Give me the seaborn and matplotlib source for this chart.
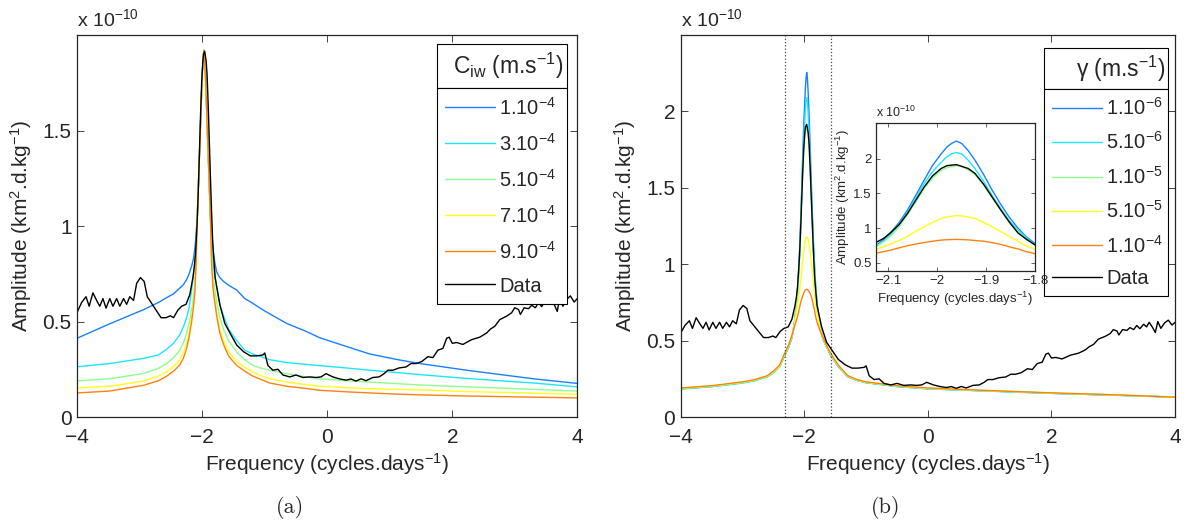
import numpy as np
import pandas as pd
import matplotlib
matplotlib.use("Agg")
import matplotlib.pyplot as plt
from matplotlib.patches import Rectangle
from matplotlib.lines import Line2D
import seaborn as sns

# amplitudes are in units of 1e-10 km^2.d.kg^-1, frequencies in cycles/day

# observed spectrum (same curve in both panels)
data_freq = [-4.0, -3.93, -3.86, -3.81, -3.75, -3.69, -3.64, -3.59, -3.54, -3.48,
             -3.43, -3.37, -3.32, -3.26, -3.21, -3.16, -3.10, -3.05, -2.99, -2.93,
             -2.88, -2.80, -2.72, -2.66, -2.58, -2.51, -2.46, -2.39, -2.33, -2.26,
             -2.20, -2.15, -2.126, -2.11, -2.096, -2.078, -2.061, -2.044, -2.027, -2.01,
             -1.992, -1.98, -1.961, -1.937, -1.923, -1.905, -1.888, -1.87, -1.853, -1.835,
             -1.818, -1.794, -1.72, -1.64, -1.557, -1.45, -1.34, -1.23, -1.13, -1.03,
             -1.00, -0.95, -0.87, -0.79, -0.71, -0.60, -0.50, -0.39, -0.28, -0.18,
             -0.10, -0.02, 0.09, 0.19, 0.30, 0.38, 0.46, 0.54, 0.62, 0.73,
             0.83, 0.91, 0.97, 1.05, 1.15, 1.26, 1.34, 1.42, 1.51, 1.61,
             1.69, 1.77, 1.85, 1.91, 1.95, 2.00, 2.07, 2.17, 2.31, 2.44,
             2.55, 2.61, 2.68, 2.76, 2.87, 2.95, 3.00, 3.06, 3.09, 3.15,
             3.22, 3.27, 3.33, 3.38, 3.43, 3.49, 3.54, 3.58, 3.63, 3.68,
             3.72, 3.77, 3.83, 3.89, 3.95, 4.0]
data_amp = [0.55, 0.60, 0.63, 0.58, 0.65, 0.61, 0.58, 0.62, 0.57, 0.62,
            0.58, 0.62, 0.58, 0.62, 0.59, 0.63, 0.61, 0.70, 0.73, 0.71,
            0.63, 0.59, 0.55, 0.52, 0.52, 0.53, 0.52, 0.56, 0.58, 0.59,
            0.64, 0.73, 0.79, 0.85, 0.93, 1.05, 1.21, 1.40, 1.59, 1.75,
            1.86, 1.90, 1.915, 1.86, 1.79, 1.63, 1.45, 1.26, 1.09, 0.93,
            0.84, 0.73, 0.59, 0.49, 0.44, 0.377, 0.342, 0.32, 0.32, 0.325,
            0.335, 0.27, 0.245, 0.25, 0.22, 0.21, 0.22, 0.207, 0.21, 0.207,
            0.21, 0.227, 0.21, 0.20, 0.193, 0.199, 0.188, 0.20, 0.19, 0.207,
            0.21, 0.227, 0.245, 0.245, 0.257, 0.262, 0.28, 0.28, 0.29, 0.316,
            0.311, 0.35, 0.359, 0.412, 0.418, 0.386, 0.39, 0.38, 0.405, 0.418,
            0.44, 0.46, 0.475, 0.51, 0.528, 0.546, 0.572, 0.563, 0.537, 0.572,
            0.567, 0.585, 0.572, 0.599, 0.578, 0.607, 0.59, 0.62, 0.59, 0.553,
            0.625, 0.58, 0.616, 0.634, 0.602, 0.62]

# panel (a): models for several C_iw
left_freq = [-4.0, -3.48, -2.94, -2.7, -2.57, -2.46, -2.36, -2.30, -2.25, -2.21,
             -2.17, -2.14, -2.12, -2.10, -2.08, -2.04, -2.0, -1.975, -1.95, -1.91,
             -1.87, -1.85, -1.83, -1.80, -1.77, -1.72, -1.66, -1.58, -1.45, -1.32,
             -1.19, -1.05, -0.92, -0.65, -0.35, -0.12, 0.3, 0.68, 1.1, 1.48,
             2.23, 3.30, 4.0]
ciw_1e4 = [0.413, 0.488, 0.562, 0.60, 0.625, 0.645, 0.675, 0.694, 0.72, 0.75,
           0.79, 0.83, 0.88, 0.95, 1.05, 1.42, 1.8, 1.92, 1.8, 1.42,
           1.05, 0.95, 0.88, 0.81, 0.76, 0.73, 0.71, 0.69, 0.665, 0.62,
           0.595, 0.565, 0.54, 0.49, 0.45, 0.415, 0.37, 0.33, 0.302, 0.28,
           0.245, 0.20, 0.176]
ciw_3e4 = [0.263, 0.28, 0.307, 0.325, 0.355, 0.386, 0.43, 0.474, 0.52, 0.575,
           0.668, 0.74, 0.81, 0.90, 1.05, 1.42, 1.8, 1.92, 1.8, 1.42,
           1.05, 0.92, 0.81, 0.74, 0.68, 0.59, 0.53, 0.46, 0.40, 0.35,
           0.33, 0.315, 0.30, 0.285, 0.276, 0.269, 0.257, 0.245, 0.233, 0.222,
           0.202, 0.178, 0.158]
ciw_5e4 = [0.189, 0.20, 0.228, 0.255, 0.28, 0.31, 0.35, 0.39, 0.44, 0.49,
           0.56, 0.63, 0.70, 0.82, 1.05, 1.42, 1.8, 1.92, 1.8, 1.42,
           1.05, 0.85, 0.74, 0.67, 0.60, 0.52, 0.46, 0.40, 0.34, 0.30,
           0.27, 0.255, 0.245, 0.227, 0.21, 0.20, 0.19, 0.183, 0.175, 0.168,
           0.158, 0.145, 0.136]
ciw_7e4 = [0.152, 0.161, 0.188, 0.215, 0.237, 0.265, 0.30, 0.34, 0.386, 0.44,
           0.527, 0.60, 0.668, 0.80, 1.05, 1.42, 1.8, 1.92, 1.8, 1.42,
           1.05, 0.82, 0.70, 0.62, 0.55, 0.46, 0.40, 0.34, 0.29, 0.26,
           0.236, 0.215, 0.20, 0.183, 0.17, 0.161, 0.154, 0.148, 0.145, 0.142,
           0.133, 0.125, 0.119]
ciw_9e4 = [0.126, 0.136, 0.166, 0.19, 0.214, 0.24, 0.272, 0.31, 0.36, 0.42,
           0.50, 0.58, 0.65, 0.79, 1.05, 1.42, 1.8, 1.92, 1.8, 1.42,
           1.05, 0.80, 0.68, 0.60, 0.53, 0.44, 0.38, 0.32, 0.27, 0.24,
           0.214, 0.195, 0.178, 0.161, 0.15, 0.14, 0.132, 0.126, 0.12, 0.116,
           0.11, 0.104, 0.10]
ciw_labels = [r'1.10$^{-4}$', r'3.10$^{-4}$', r'5.10$^{-4}$', r'7.10$^{-4}$', r'9.10$^{-4}$']

# panel (b): models for several gamma
right_freq = [-4.0, -3.5, -3.0, -2.8, -2.6, -2.5, -2.4, -2.32, -2.25, -2.2,
              -2.16, -2.126, -2.11, -2.096, -2.078, -2.061, -2.044, -2.027, -2.01, -1.992,
              -1.98, -1.971, -1.961, -1.950, -1.937, -1.923, -1.905, -1.888, -1.87, -1.853,
              -1.835, -1.818, -1.794, -1.75, -1.7, -1.63, -1.57, -1.5, -1.45, -1.38,
              -1.3, -1.15, -1.0, -0.5, 0.0, 1.0, 2.0, 3.0, 4.0]
gam_1e6 = [0.185, 0.20, 0.225, 0.24, 0.265, 0.29, 0.33, 0.40, 0.46, 0.52,
           0.62, 0.745, 0.83, 0.93, 1.08, 1.26, 1.47, 1.69, 1.90, 2.07,
           2.17, 2.22, 2.255, 2.22, 2.12, 1.98, 1.77, 1.55, 1.34, 1.16,
           1.00, 0.874, 0.745, 0.60, 0.51, 0.45, 0.40, 0.36, 0.33, 0.30,
           0.265, 0.24, 0.225, 0.20, 0.185, 0.17, 0.155, 0.143, 0.13]
gam_5e6 = [0.183, 0.198, 0.222, 0.237, 0.262, 0.288, 0.328, 0.40, 0.46, 0.52,
           0.61, 0.73, 0.81, 0.90, 1.05, 1.23, 1.43, 1.64, 1.81, 1.95,
           2.03, 2.07, 2.09, 2.07, 1.98, 1.86, 1.67, 1.47, 1.28, 1.11,
           0.97, 0.86, 0.73, 0.60, 0.51, 0.45, 0.40, 0.36, 0.33, 0.30,
           0.264, 0.24, 0.224, 0.199, 0.184, 0.169, 0.155, 0.143, 0.13]
gam_1e5 = [0.186, 0.201, 0.225, 0.24, 0.265, 0.29, 0.33, 0.405, 0.465, 0.525,
           0.62, 0.73, 0.80, 0.88, 1.02, 1.19, 1.38, 1.57, 1.72, 1.83,
           1.87, 1.89, 1.90, 1.89, 1.84, 1.77, 1.62, 1.44, 1.26, 1.08,
           0.95, 0.84, 0.72, 0.60, 0.515, 0.45, 0.405, 0.36, 0.335, 0.30,
           0.267, 0.24, 0.226, 0.201, 0.186, 0.171, 0.156, 0.144, 0.13]
gam_5e5 = [0.188, 0.203, 0.228, 0.243, 0.268, 0.295, 0.335, 0.41, 0.47, 0.53,
           0.60, 0.69, 0.73, 0.77, 0.82, 0.88, 0.95, 1.02, 1.08, 1.14,
           1.16, 1.17, 1.18, 1.175, 1.16, 1.14, 1.08, 1.02, 0.95, 0.88,
           0.81, 0.74, 0.68, 0.59, 0.52, 0.455, 0.41, 0.365, 0.338, 0.305,
           0.27, 0.242, 0.228, 0.203, 0.188, 0.172, 0.157, 0.145, 0.13]
gam_1e4 = [0.19, 0.205, 0.23, 0.245, 0.27, 0.30, 0.34, 0.415, 0.475, 0.535,
           0.59, 0.634, 0.66, 0.68, 0.715, 0.745, 0.77, 0.79, 0.81, 0.826,
           0.832, 0.834, 0.836, 0.834, 0.83, 0.82, 0.81, 0.79, 0.765, 0.73,
           0.70, 0.66, 0.62, 0.57, 0.525, 0.46, 0.415, 0.37, 0.34, 0.307,
           0.272, 0.245, 0.23, 0.205, 0.19, 0.173, 0.158, 0.146, 0.13]
gam_labels = [r'1.10$^{-6}$', r'5.10$^{-6}$', r'1.10$^{-5}$', r'5.10$^{-5}$', r'1.10$^{-4}$']

band_edges = [-2.32, -1.57]  # dotted lines around the zoomed band

colors = ['#1a80ff', '#1ae6ff', '#8cff8c', '#ffff1a', '#ff8010']

sns.set_style("ticks", {"xtick.direction": "in", "ytick.direction": "in"})
plt.rcParams['font.family'] = ['Liberation Sans', 'DejaVu Sans']
plt.rcParams['mathtext.fontset'] = 'custom'
plt.rcParams['mathtext.rm'] = 'Liberation Sans'
plt.rcParams['mathtext.it'] = 'Liberation Sans:italic'
plt.rcParams['axes.linewidth'] = 0.9

fig = plt.figure(figsize=(11.89, 5.29), dpi=100)
ax1 = fig.add_axes([0.0650, 0.2117, 0.4205, 0.7221])
ax2 = fig.add_axes([0.5725, 0.2117, 0.4158, 0.7221])
axin = fig.add_axes([0.7365, 0.4883, 0.1340, 0.2798])


def draw(ax, freq, curves, lw=1.0):
    for amp, c in zip(curves, colors):
        sns.lineplot(x=freq, y=amp, ax=ax, color=c, lw=lw, estimator=None)
    sns.lineplot(x=data_freq, y=data_amp, ax=ax, color='black', lw=lw, estimator=None)


def style(ax, ylim, yticks, fs=15):
    ax.set_xlim(-4, 4)
    ax.set_ylim(*ylim)
    ax.set_xticks([-4, -2, 0, 2, 4])
    ax.set_yticks(yticks)
    ax.set_yticklabels([f'{t:g}' for t in yticks])
    ax.tick_params(top=True, right=True, direction='in', length=5, width=0.6,
                   labelsize=fs)
    ax.tick_params(axis='x', pad=8)
    ax.tick_params(axis='y', pad=4)
    ax.set_xlabel(r'Frequency (cycles.days$^{-1}$)', fontsize=fs, labelpad=3)
    ax.set_ylabel(r'Amplitude (km$^{2}$.d.kg$^{-1}$)', fontsize=fs, labelpad=6)
    ax.text(0, 1.012, r'x 10$^{-10}$', transform=ax.transAxes, ha='left', va='bottom', fontsize=14)


def matlab_legend(ax, labels, title, x0, x1, top, sep, spacing):
    handles = [Line2D([], [], color=c, lw=1.0) for c in colors]
    handles.append(Line2D([], [], color='black', lw=1.0))
    rect = Rectangle((x0, sep), x1 - x0, top - sep, transform=ax.transAxes,
                     fc='white', ec='black', lw=0.8, zorder=5)
    ax.add_patch(rect)
    ax.text(x1 - 0.006, (top + sep) / 2, title, transform=ax.transAxes,
            ha='right', va='center', fontsize=16.5, zorder=6)
    leg = ax.legend(handles, labels + ['Data'], loc='upper left',
                    bbox_to_anchor=(x0, 0, x1 - x0, sep), mode='expand',
                    borderaxespad=0, fancybox=False, edgecolor='black',
                    framealpha=1, handlelength=2.5, handletextpad=0.2,
                    labelspacing=spacing, fontsize=14.5, borderpad=0.4)
    leg.get_frame().set_linewidth(0.8)


# panel (a)
draw(ax1, left_freq, [ciw_1e4, ciw_3e4, ciw_5e4, ciw_7e4, ciw_9e4])
style(ax1, (0, 2.0), [0, 0.5, 1, 1.5])
matlab_legend(ax1, ciw_labels, r'C$_{\rm iw}$ (m.s$^{-1}$)', 0.719, 0.979, 0.976, 0.860, 0.70)

# panel (b)
draw(ax2, right_freq, [gam_1e6, gam_5e6, gam_1e5, gam_5e5, gam_1e4])
for xb in band_edges:
    ax2.axvline(xb, color='#444444', ls=':', lw=0.9)
style(ax2, (0, 2.5), [0, 0.5, 1, 1.5, 2])
matlab_legend(ax2, gam_labels, r'γ (m.s$^{-1}$)', 0.734, 0.986, 0.966, 0.859, 0.62)

# inset zoom of panel (b)
draw(axin, right_freq, [gam_1e6, gam_5e6, gam_1e5, gam_5e5, gam_1e4])
axin.set_xlim(-2.126, -1.8)
axin.set_ylim(0.385, 2.52)
axin.set_xticks([-2.1, -2.0, -1.9, -1.8])
axin.set_xticklabels(['\u22122.1', '\u22122', '\u22121.9', '\u22121.8'])
axin.set_yticks([0.5, 1, 1.5, 2])
axin.set_yticklabels(['0.5', '1', '1.5', '2'])
axin.tick_params(top=True, right=True, direction='in', length=3, width=0.5,
                 labelsize=9.5, pad=3)
axin.set_xlabel(r'Frequency (cycles.days$^{-1}$)', fontsize=9.5, labelpad=2)
axin.set_ylabel(r'Amplitude (km$^{2}$.d.kg$^{-1}$)', fontsize=9.5, labelpad=1)
axin.text(0, 1.015, r'x 10$^{-10}$', transform=axin.transAxes, ha='left', va='bottom', fontsize=9)

fig.text(0.244, 0.04, '(a)', ha='center', va='center', fontsize=16, family='cmr10')
fig.text(0.745, 0.04, '(b)', ha='center', va='center', fontsize=16, family='cmr10')

fig.savefig('out.png', dpi=100, facecolor='white')
